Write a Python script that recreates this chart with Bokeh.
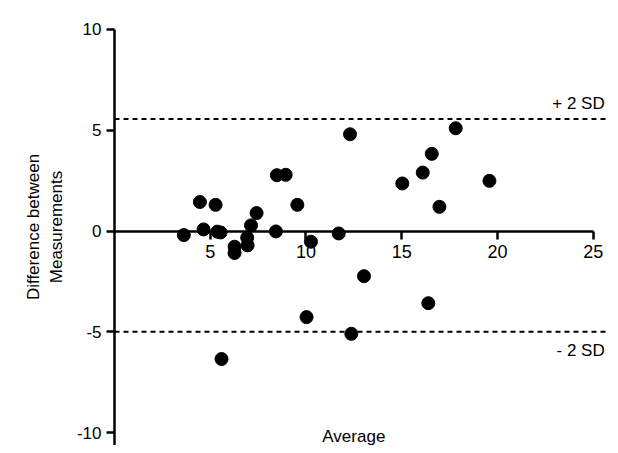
from bokeh.plotting import figure
from bokeh.models import LinearAxis, Span, Label, FixedTicker, Range1d
from bokeh.embed import file_html
from bokeh.resources import INLINE

avg = [3.62, 4.46, 4.65, 5.28, 5.37, 5.54, 5.59, 6.27, 6.27, 6.93, 6.95, 7.13, 7.42, 8.43, 8.48,
       8.94, 9.55, 10.03, 10.26, 11.71, 12.30, 12.37, 13.03, 15.03, 16.10, 16.39, 16.57, 16.97, 17.82, 19.58]
diff = [-0.2, 1.44, 0.08, 1.30, -0.03, -0.07, -6.35, -0.78, -1.09, -0.33, -0.71, 0.28, 0.89, -0.02, 2.77,
        2.79, 1.30, -4.27, -0.53, -0.12, 4.80, -5.10, -2.24, 2.36, 2.90, -3.58, 3.83, 1.20, 5.10, 2.49]
upper_sd = 5.56
lower_sd = -5.0
x_ticks = [5, 10, 15, 20, 25]
y_ticks = [-10, -5, 0, 5, 10]
y_labels = {-10: "-10", -5: "-5", 0: "0", 5: "5", 10: "10"}

FONT = "Liberation Sans"

p = figure(width=610, height=445, output_backend="svg", toolbar_location=None,
           x_axis_location=None, y_axis_location=None,
           x_range=Range1d(0, 25.8), y_range=Range1d(-10.64, 11.04),
           min_border_left=114, min_border_right=2, min_border_top=8, min_border_bottom=0)
p.grid.visible = False
p.outline_line_color = None

yaxis = LinearAxis(ticker=FixedTicker(ticks=y_ticks), bounds=(-11, 10),
                   axis_label="Difference between\nMeasurements",
                   major_label_overrides=y_labels)
yaxis.axis_line_width = 2.5
yaxis.major_tick_line_width = 2.5
yaxis.major_tick_out = 8
yaxis.major_tick_in = 0
yaxis.minor_tick_line_color = None
yaxis.major_label_text_font = FONT
yaxis.major_label_text_font_size = "17px"
yaxis.major_label_text_color = "black"
yaxis.axis_label_text_font = FONT
yaxis.axis_label_text_font_size = "17px"
yaxis.axis_label_text_font_style = "normal"
yaxis.axis_label_text_color = "black"
yaxis.axis_label_standoff = 8
p.add_layout(yaxis, "left")

xaxis = LinearAxis(ticker=FixedTicker(ticks=x_ticks), fixed_location=0, bounds=(0, 25))
xaxis.axis_line_width = 2.5
xaxis.major_tick_line_width = 2.5
xaxis.major_tick_out = 8
xaxis.major_tick_in = 0
xaxis.minor_tick_line_color = None
xaxis.major_label_text_font = FONT
xaxis.major_label_text_font_size = "18px"
xaxis.major_label_text_color = "black"
xaxis.major_label_standoff = 6
p.add_layout(xaxis, "below")

for lvl in (upper_sd, lower_sd):
    p.add_layout(Span(location=lvl, dimension="width", line_color="black",
                      line_width=2, line_dash="5 4"))

p.add_layout(Label(x=25.6, y=upper_sd + 0.3, text="+ 2 SD", text_align="right",
                   text_font=FONT, text_font_size="17px", text_color="black"))
p.add_layout(Label(x=25.6, y=lower_sd - 0.45, text="- 2 SD", text_align="right",
                   text_baseline="top", text_font=FONT, text_font_size="17px", text_color="black"))
p.add_layout(Label(x=12.5, y=-10.64, text="Average", text_align="center",
                   text_baseline="bottom", text_font=FONT, text_font_size="17px", text_color="black"))

p.scatter(avg, diff, size=13, color="black")

open("out.html", "w").write(file_html(p, INLINE))
